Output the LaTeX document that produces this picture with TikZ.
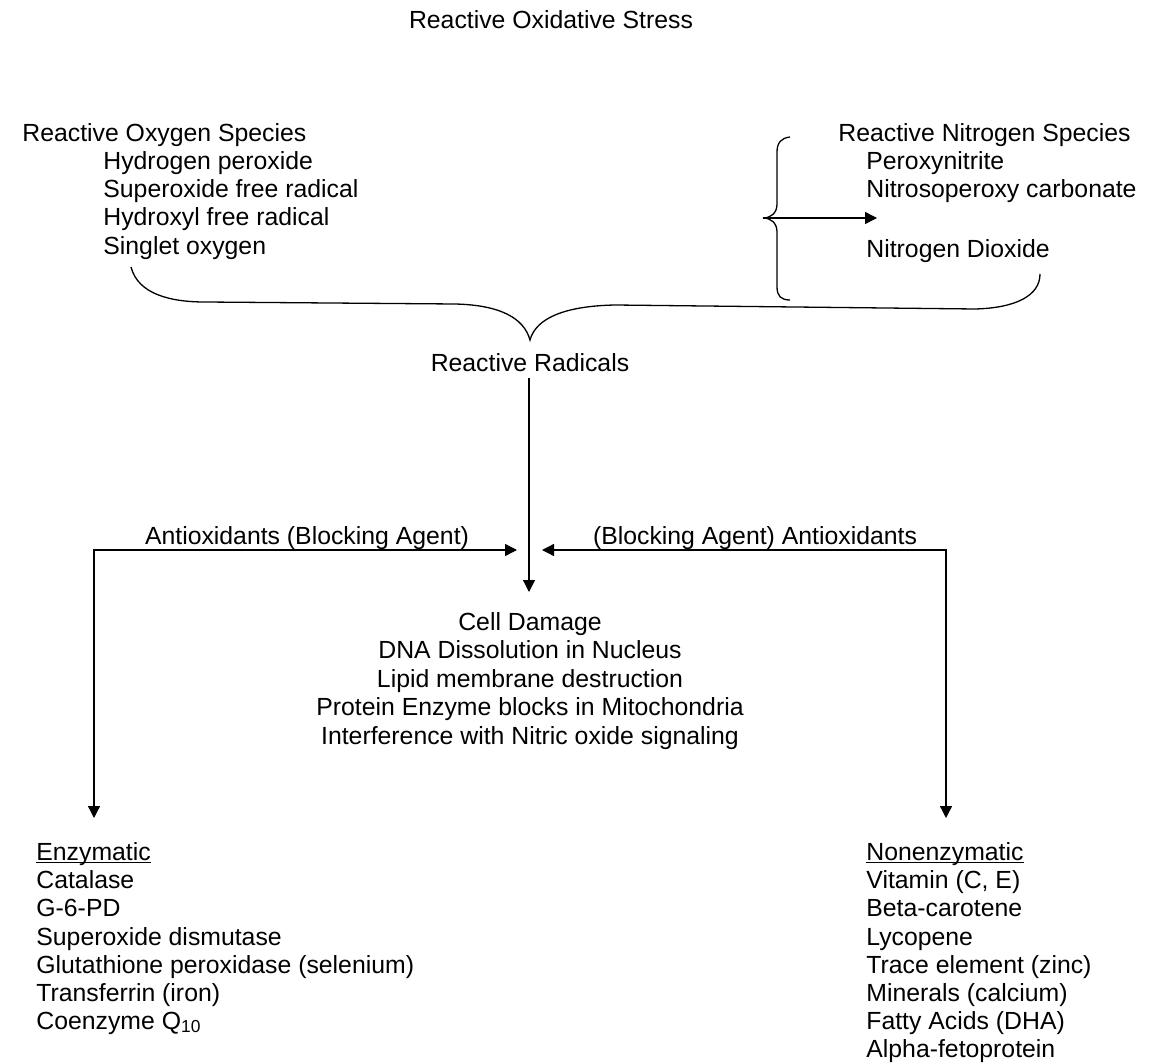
\documentclass[tikz,border=0pt]{standalone}
\usepackage{fontspec}
\setmainfont{Liberation Sans}
\usetikzlibrary{arrows.meta}
\newcommand\myfs{\fontsize{12.4pt}{14.2pt}\selectfont}
\newcommand\myul[1]{\setbox0\hbox{#1}\rlap{\rule[-1.6pt]{\wd0}{0.6pt}}\box0}
\begin{document}
\begin{tikzpicture}[x=0.5pt,y=-0.5pt,
  txt/.style={anchor=base west,inner sep=0pt,font=\myfs},
  ctxt/.style={anchor=base,inner sep=0pt,font=\myfs},
  ln/.style={line width=0.65pt,black},
  tip/.style={-{Triangle[length=6pt,width=6pt]}},
  ttip/.style={{Triangle[length=6pt,width=6pt]}-{Triangle[length=6pt,width=6pt]}}]
\useasboundingbox (0,0) rectangle (1151,1064);
% title
\node[ctxt] (title) at (551,29) {Reactive Oxidative Stress};
% ROS
\node[txt] (ros) at (22,142) {Reactive Oxygen Species};
\node[txt] (ros1) at (103,170) {Hydrogen peroxide};
\node[txt] (ros2) at (103,198) {Superoxide free radical};
\node[txt] (ros3) at (103,226) {Hydroxyl free radical};
\node[txt] (ros4) at (103,255) {Singlet oxygen};
% RNS
\node[txt] (rns) at (838,142) {Reactive Nitrogen Species};
\node[txt] (rns1) at (866,170) {Peroxynitrite};
\node[txt] (rns2) at (866,198) {Nitrosoperoxy carbonate};
\node[txt] (rns3) at (866,257) {Nitrogen Dioxide};
% small brace and arrow
\coordinate (bt) at (790,137);
\coordinate (bm) at (763,218);
\coordinate (bb) at (790,300);
\coordinate (barr) at (877,218);
\draw[ln] (bt) .. controls (781,138) and (777,143) .. (777,152) -- (777,204)
  .. controls (777,213) and (771,218) .. (bm)
  .. controls (771,218) and (777,223) .. (777,232) -- (777,287)
  .. controls (777,296) and (781,300) .. (bb);
\draw[ln,tip] (bm) -- (barr);
% big brace
\coordinate (gl) at (131,267);
\coordinate (gm) at (530,340);
\coordinate (gr) at (1040,274);
\draw[ln] (gl) .. controls (138,294) and (170,302) .. (205,302) -- (455,304)
  .. controls (500,305) and (524,318) .. (gm)
  .. controls (536,318) and (565,306) .. (615,305) -- (975,309)
  .. controls (1015,308) and (1040,296) .. (gr);
% reactive radicals
\node[ctxt] (rad) at (530,371) {Reactive Radicals};
\coordinate (vtop) at (529,378);
\coordinate (vbot) at (529,592);
\draw[ln,tip] (vtop) -- (vbot);
% antioxidant arrows
\node[ctxt] (antl) at (307,544) {Antioxidants (Blocking Agent)};
\node[ctxt] (antr) at (755,544) {(Blocking Agent) Antioxidants};
\coordinate (la) at (517,550);
\coordinate (lb) at (94,818);
\coordinate (ra) at (542,550);
\coordinate (rb) at (946,818);
\draw[ln,ttip] (la) -| (lb);
\draw[ln,ttip] (ra) -| (rb);
% cell damage
\node[ctxt] (cd0) at (530,630) {Cell Damage};
\node[ctxt] (cd1) at (530,658) {DNA Dissolution in Nucleus};
\node[ctxt] (cd2) at (530,687) {Lipid membrane destruction};
\node[ctxt] (cd3) at (530,715) {Protein Enzyme blocks in Mitochondria};
\node[ctxt] (cd4) at (530,744) {Interference with Nitric oxide signaling};
% enzymatic
\node[txt] (en0) at (36,860) {\myul{Enzymatic}};
\node[txt] (en1) at (36,888) {Catalase};
\node[txt] (en2) at (36,916) {G-6-PD};
\node[txt] (en3) at (36,945) {Superoxide dismutase};
\node[txt] (en4) at (36,973) {Glutathione peroxidase (selenium)};
\node[txt] (en5) at (36,1001) {Transferrin (iron)};
\node[txt] (en6) at (36,1029) {Coenzyme Q\textsubscript{10}};
% nonenzymatic
\node[txt] (ne0) at (866,860) {\myul{Nonenzymatic}};
\node[txt] (ne1) at (866,888) {Vitamin (C, E)};
\node[txt] (ne2) at (866,916) {Beta-carotene};
\node[txt] (ne3) at (866,945) {Lycopene};
\node[txt] (ne4) at (866,973) {Trace element (zinc)};
\node[txt] (ne5) at (866,1001) {Minerals (calcium)};
\node[txt] (ne6) at (866,1029) {Fatty Acids (DHA)};
\node[txt] (ne7) at (866,1057) {Alpha-fetoprotein};
\end{tikzpicture}
\end{document}
